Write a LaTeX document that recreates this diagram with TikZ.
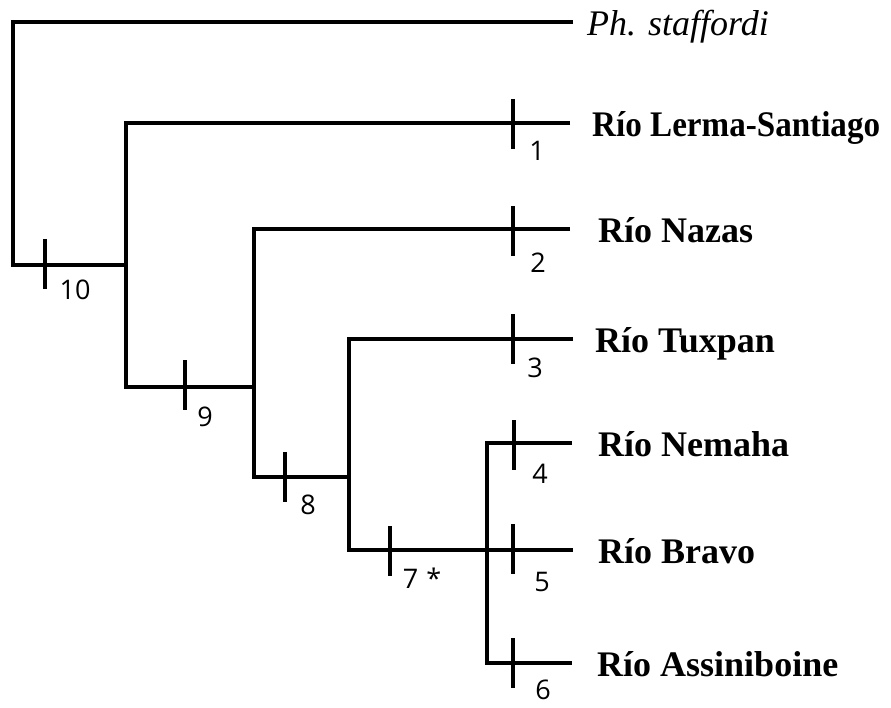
\documentclass[tikz,border=0pt]{standalone}
\usepackage{fontspec}
\setmainfont{Liberation Serif}
\newfontfamily\numfont{Open Sans}
\begin{document}
\begin{tikzpicture}[x=1pt,y=-1pt,
  branch/.style={line width=4.7pt, line join=miter},
  synapo/.style={line width=4.7pt},
  taxon/.style={anchor=base west, inner sep=0pt,
    font=\fontsize{36}{40}\selectfont\bfseries},
  num/.style={inner sep=0pt, font=\fontsize{27}{30}\numfont}]
\useasboundingbox[fill=white] (0,0) rectangle (891,707);

% terminal taxa
\node[taxon, font=\fontsize{36}{40}\selectfont\itshape] (t0) at (587,35) {Ph. staffordi};
\node[taxon] (t1) at (592,136) {\scalebox{0.92}[1]{Río Lerma-Santiago}};
\node[taxon] (t2) at (598,242) {Río Nazas};
\node[taxon] (t3) at (595,352) {Río Tuxpan};
\node[taxon] (t4) at (598,456) {Río Nemaha};
\node[taxon] (t5) at (598,563) {Río Bravo};
\node[taxon] (t6) at (597,676) {Río Assiniboine};

% tips of the branches
\coordinate (e0) at (573,22);
\coordinate (e1) at (570,123);
\coordinate (e2) at (570,229);
\coordinate (e3) at (573,339);
\coordinate (e4) at (572,443);
\coordinate (e5) at (573,550);
\coordinate (e6) at (572,663);

% internal nodes
\coordinate (r)   at (13,265);
\coordinate (k10) at (126,265);
\coordinate (k9)  at (126,387);
\coordinate (n9)  at (254,387);
\coordinate (k8)  at (254,477);
\coordinate (n8)  at (349,477);
\coordinate (k7)  at (349,550);
\coordinate (n6)  at (487,663);

% branches
\draw[branch] (e0) -| (r) -- (k10);
\draw[branch] (e1) -| (k9) -- (n9);
\draw[branch] (e2) -| (k8) -- (n8);
\draw[branch] (e3) -| (k7) -- (e5);
\draw[branch] (e4) -| (n6) -- (e6);

% synapomorphy bars with their numbers
\newcommand{\synbar}[6]{%
  \draw[synapo] (#1,#2-25) -- (#1,#2+25);
  \node[num] (#3) at (#4,#5) {#6};}
\synbar{45}{264}{s10}{75}{290}{10}
\synbar{513}{124}{s1}{537}{151}{1}
\synbar{513}{231}{s2}{538}{263}{2}
\synbar{513}{339}{s3}{535}{368}{3}
\synbar{514}{445}{s4}{540}{474}{4}
\synbar{513}{549}{s5}{542}{582}{5}
\synbar{513}{663}{s6}{543}{690}{6}
\synbar{185}{385}{s9}{205}{417}{9}
\synbar{285}{477}{s8}{308}{505}{8}
\synbar{390}{551}{s7}{422}{578}{7\hspace{0.3em}*}
\end{tikzpicture}
\end{document}
